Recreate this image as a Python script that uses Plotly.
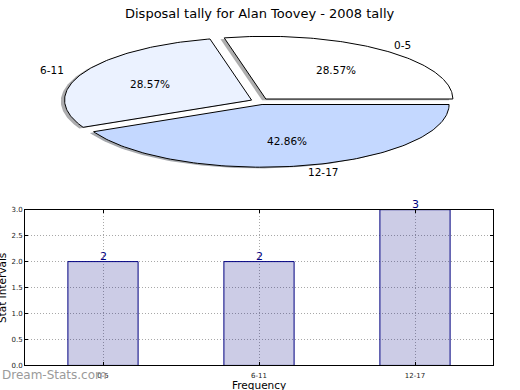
import numpy as np
import plotly.graph_objects as go

# ---- data ----
categories = ["0-5", "6-11", "12-17"]
counts = [2, 2, 3]
slice_colors = ["#ffffff", "#ebf2ff", "#c4d8ff"]
title_text = "Disposal tally for Alan Toovey - 2008 tally"
y_ticks = [0.0, 0.5, 1.0, 1.5, 2.0, 2.5, 3.0]

FONT = "DejaVu Sans"
W, H = 520, 390

fig = go.Figure()

# ---- elliptical exploded pie (top), drawn from the values ----
explode = 0.05
total = float(sum(counts))
fracs = [c / total for c in counts]

def hex_rgb(h):
    h = h.lstrip("#")
    return tuple(int(h[i:i + 2], 16) for i in (0, 2, 4))

slices = []
start = 0.0
for cat, f, col in zip(categories, fracs, slice_colors):
    t1, t2 = start, start + 360.0 * f
    tm = np.deg2rad((t1 + t2) / 2)
    cx, cy = explode * np.cos(tm), explode * np.sin(tm)
    th = np.deg2rad(np.linspace(t1, t2, 120))
    xs = np.concatenate([[cx], cx + np.cos(th), [cx]])
    ys = np.concatenate([[cy], cy + np.sin(th), [cy]])
    slices.append((cat, f, col, tm, cx, cy, xs, ys))
    start = t2

# shadows first
for cat, f, col, tm, cx, cy, xs, ys in slices:
    r, g, b = hex_rgb(col)
    fig.add_trace(go.Scatter(x=xs - 0.02, y=ys - 0.02, mode="lines", fill="toself",
                             fillcolor=f"rgba({int(r*0.3)},{int(g*0.3)},{int(b*0.3)},0.45)",
                             line=dict(width=0), xaxis="x2", yaxis="y2",
                             hoverinfo="skip", showlegend=False))
for cat, f, col, tm, cx, cy, xs, ys in slices:
    fig.add_trace(go.Scatter(x=xs, y=ys, mode="lines", fill="toself", fillcolor=col,
                             line=dict(color="black", width=1), xaxis="x2", yaxis="y2",
                             hoverinfo="skip", showlegend=False))

annotations = []
for cat, f, col, tm, cx, cy, xs, ys in slices:
    xt = cx + 1.1 * np.cos(tm)
    yt = cy + 1.1 * np.sin(tm)
    annotations.append(dict(x=xt, y=yt, xref="x2", yref="y2", text=cat, showarrow=False,
                            xanchor="left" if xt > 0 else "right", yanchor="middle",
                            xshift=-2 if xt > 0 else 0,
                            font=dict(family=FONT, size=10.5, color="black")))
    annotations.append(dict(x=cx + 0.6 * np.cos(tm), y=cy + 0.6 * np.sin(tm), xref="x2", yref="y2",
                            text=f"{f*100:.2f}%", showarrow=False, xanchor="center", yanchor="middle",
                            font=dict(family=FONT, size=10.5, color="black")))

# ---- bar chart (bottom) ----
fig.add_trace(go.Bar(x=categories, y=counts, width=0.45,
                     marker=dict(color="rgba(0,0,128,0.2)", line=dict(color="#000080", width=1)),
                     xaxis="x", yaxis="y", hoverinfo="skip", showlegend=False))
for cat, v in zip(categories, counts):
    annotations.append(dict(x=cat, y=v, xref="x", yref="y", text=str(v), showarrow=False,
                            xanchor="center", yanchor="bottom", yshift=-3,
                            font=dict(family=FONT, size=11, color="#000080")))

annotations += [
    dict(x=2 / W, y=1 - 290 / H, xref="paper", yref="paper", text="Stat Intervals", textangle=-90,
         showarrow=False, xanchor="center", yanchor="middle",
         font=dict(family=FONT, size=10.5, color="black")),
    dict(x=259 / W, y=1 - 381 / H, xref="paper", yref="paper", text="Frequency",
         showarrow=False, xanchor="center", yanchor="top",
         font=dict(family=FONT, size=10.5, color="black")),
    dict(x=0, y=1 - 379 / H, xref="paper", yref="paper", text="Dream-Stats.com",
         showarrow=False, xanchor="left", yanchor="middle",
         font=dict(family=FONT, size=12, color="#9a9a9a")),
    dict(x=0.5, y=1 - 10 / H, xref="paper", yref="paper", text=title_text,
         showarrow=False, xanchor="center", yanchor="middle",
         font=dict(family=FONT, size=13, color="black")),
]

rx_px, ry_px = 187.0, 64.0
pcx, pcy = 260.0, 99.5
pie_top, pie_bot = 0.0, 200.0

axis_common = dict(showline=True, linecolor="black", linewidth=1, mirror="allticks",
                   ticks="inside", ticklen=3, tickcolor="black",
                   tickfont=dict(family=FONT, size=7, color="#222222"),
                   showgrid=True, gridcolor="#a8a8a8", griddash="1px,2px", gridwidth=1,
                   zeroline=False)

fig.update_layout(
    width=W, height=H, margin=dict(l=0, r=0, t=0, b=0),
    paper_bgcolor="white", plot_bgcolor="white",
    font=dict(family=FONT),
    showlegend=False,
    xaxis=dict(domain=[25 / W, 493 / W], range=[-0.5, 2.5], type="category",
               ticklabelstandoff=3, **axis_common),
    yaxis=dict(domain=[1 - 369 / H, 1 - 210 / H], range=[0, 3], tickvals=y_ticks,
               tickformat=".1f", **axis_common),
    xaxis2=dict(domain=[0, 1], range=[-pcx / rx_px, (W - pcx) / rx_px], visible=False,
                anchor="y2"),
    yaxis2=dict(domain=[1 - pie_bot / H, 1 - pie_top / H],
                range=[-(pie_bot - pcy) / ry_px, (pcy - pie_top) / ry_px], visible=False,
                anchor="x2"),
    annotations=annotations,
)

fig.write_html("out.html", config={"displayModeBar": False},
               post_script="document.body.style.margin='0';document.body.style.overflow='hidden';")
